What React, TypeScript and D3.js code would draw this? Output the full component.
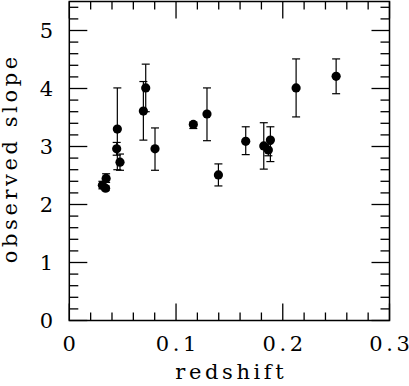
import React from 'react';
import { scaleLinear, range } from 'd3';

// redshift, observed slope, lower / upper end of the error bar
const redshift = [0.031, 0.034, 0.0345, 0.045, 0.0444, 0.0475, 0.0694, 0.0716, 0.0803, 0.1162, 0.129, 0.1397, 0.1653, 0.1822, 0.1865, 0.1884, 0.2125, 0.25];
const slope = [2.33, 2.28, 2.45, 3.3, 2.96, 2.73, 3.61, 4.01, 2.96, 3.38, 3.56, 2.51, 3.09, 3.01, 2.94, 3.11, 4.01, 4.21];
const errLow = [2.27, 2.24, 2.38, 2.6, 2.85, 2.59, 3.11, 3.6, 2.59, 3.31, 3.1, 2.32, 2.86, 2.61, 2.84, 2.74, 3.51, 3.91];
const errHigh = [2.4, 2.32, 2.53, 4.01, 3.07, 2.87, 4.12, 4.42, 3.32, 3.42, 4.01, 2.7, 3.34, 3.41, 3.04, 3.34, 4.51, 4.51];

const xTicks = [0, 0.1, 0.2, 0.3];
const xTickLabels = ['0', '0.1', '0.2', '0.3'];
const yTicks = [0, 1, 2, 3, 4, 5];

const W = 409;
const H = 386;
const left = 69.3;
const right = 389.5;
const top = 1.5;
const bottom = 320.5;
const ls = 3.6;

export default function App() {
  const x = scaleLinear().domain([0, 0.3]).range([left, right]);
  const y = scaleLinear().domain([0, 5.5]).range([bottom, top]);

  const xMinor = range(0, 0.3001, 0.02);
  const yMinor = range(0, 5.5001, 0.2);
  const isMajX = (v: number) => Math.abs(v * 10 - Math.round(v * 10)) < 1e-6;
  const isMajY = (v: number) => Math.abs(v - Math.round(v)) < 1e-6;

  const textStyle = {
    fontFamily: "'DejaVu Serif', 'Liberation Serif', serif",
    fontSize: 21,
    letterSpacing: ls + 'px',
  };

  return (
    <svg width={W} height={H} style={{ position: 'absolute', left: 0, top: 0 }}>
      <rect width={W} height={H} fill="#fff" />
      <g stroke="#000" strokeWidth={1.3}>
        {xMinor.map((v, i) => {
          const len = isMajX(v) ? 17 : 8;
          return (
            <g key={'xt' + i}>
              <line x1={x(v)} x2={x(v)} y1={bottom} y2={bottom - len} />
              <line x1={x(v)} x2={x(v)} y1={top} y2={top + len} />
            </g>
          );
        })}
        {yMinor.map((v, i) => {
          const len = isMajY(v) ? 18 : 9;
          return (
            <g key={'yt' + i}>
              <line x1={left} x2={left + len} y1={y(v)} y2={y(v)} />
              <line x1={right} x2={right - len} y1={y(v)} y2={y(v)} />
            </g>
          );
        })}
        <rect x={left} y={top} width={right - left} height={bottom - top} fill="none" strokeWidth={1.5} />
      </g>

      <g stroke="#000" strokeWidth={1.2}>
        {redshift.map((r, i) => (
          <g key={'e' + i}>
            <line x1={x(r)} x2={x(r)} y1={y(errLow[i])} y2={y(errHigh[i])} />
            <line x1={x(r) - 4} x2={x(r) + 4} y1={y(errLow[i])} y2={y(errLow[i])} />
            <line x1={x(r) - 4} x2={x(r) + 4} y1={y(errHigh[i])} y2={y(errHigh[i])} />
          </g>
        ))}
      </g>
      <g fill="#000">
        {redshift.map((r, i) => (
          <circle key={'p' + i} cx={x(r)} cy={y(slope[i])} r={4.6} />
        ))}
      </g>

      <g fill="#000" style={textStyle}>
        {xTicks.map((v, i) => (
          <text key={'xl' + i} x={x(v) + ls / 2} y={350.5} textAnchor="middle">
            {xTickLabels[i]}
          </text>
        ))}
        {yTicks.map((v) => (
          <text key={'yl' + v} x={53 + ls} y={y(v) + 7.5} textAnchor="end">
            {v}
          </text>
        ))}
        <text x={229.5 + ls / 2} y={379} textAnchor="middle">redshift</text>
        <text transform="translate(17,160) rotate(-90)" x={ls / 2} textAnchor="middle">observed slope</text>
      </g>
    </svg>
  );
}
